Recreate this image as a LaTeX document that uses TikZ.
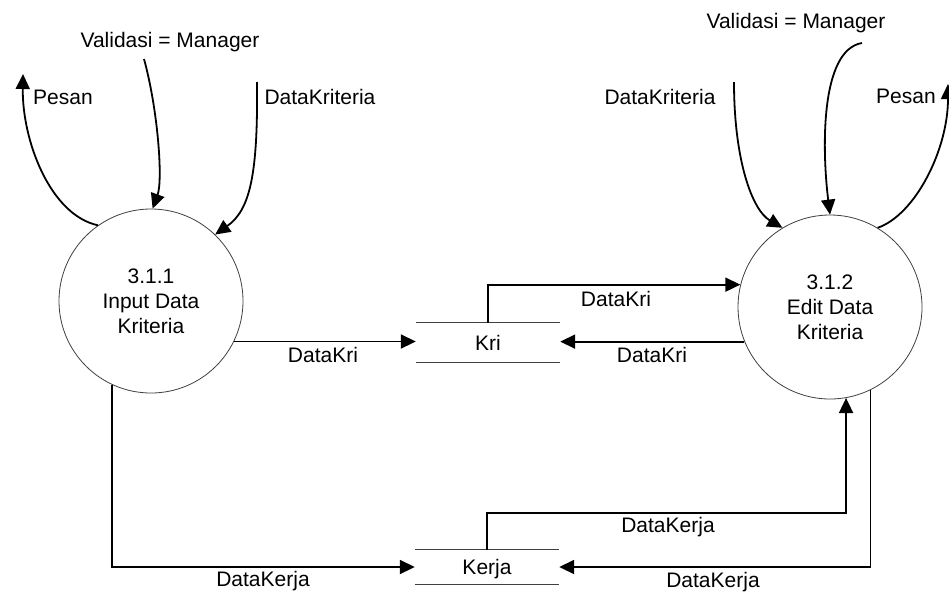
\documentclass[tikz,border=0pt]{standalone}
\usepackage{fontspec}
\setmainfont{Liberation Sans}
\usetikzlibrary{arrows.meta}
\begin{document}
\begin{tikzpicture}[x=1pt,y=-1pt,
  every node/.style={font=\fontsize{21}{25}\selectfont, inner sep=0pt},
  process/.style={circle, draw=black!75, line width=0.8pt, minimum size=184pt, align=center},
  store/.style={minimum width=144pt, text height=15pt, text depth=0pt},
  storeline/.style={draw=black!75, line width=0.9pt},
  flow/.style={line width=1.8pt, -{Triangle[length=15pt,width=14pt]}},
  lbl/.style={text height=15pt, text depth=0pt},
]
\useasboundingbox (0,0) rectangle (949,592);
\fill[white] (0,0) rectangle (949,592);

% processes
\node[process] (p1) at (151,301) {3.1.1\\Input Data\\Kriteria};
\node[process] (p2) at (830,307) {3.1.2\\Edit Data\\Kriteria};

% data stores
\node[store, minimum height=39pt] (kri) at (488,342.5) {Kri};
\node[store, minimum height=34pt] (kerja) at (487,567) {Kerja};
\draw[storeline] (kri.north west) -- (kri.north east) (kri.south west) -- (kri.south east);
\draw[storeline] (kerja.north west) -- (kerja.north east) (kerja.south west) -- (kerja.south east);

% free ends of the external flows
\coordinate (vL) at (144,59);
\coordinate (dkL) at (257,82);
\coordinate (psL) at (23,74);
\coordinate (vR) at (862,43);
\coordinate (dkR) at (734,82);
\coordinate (psR) at (948,84);
\coordinate (kb) at (0,513);

% external flows
\draw[flow] (p1.125.8) .. controls (50,215) and (22,140) .. (psL);
\draw[flow] (vL) .. controls (158,110) and (163,180) .. (p1.89);
\draw[flow] (dkL) .. controls (258,175) and (250,210) .. (p1.46.7);
\draw[flow] (vR) .. controls (820,50) and (822,150) .. (p2.90);
\draw[flow] (dkR) .. controls (734,160) and (752,210) .. (p2.121);
\draw[flow] (p2.59) .. controls (915,215) and (948,150) .. (psR);

% store flows
\draw[flow] (p1.-26.8) -- (p1.-26.8 -| kri.west);
\draw[flow] (kri.north) |- (p2.166.9);
\draw[flow] (p2.202.4) -- (p2.202.4 -| kri.east);
\draw[flow] (p1.-115.3) |- (kerja.west);
\draw[flow] (kerja.north) -- (kerja.north |- kb) -| (p2.-80);
\draw[flow] (p2.-64.9) |- (kerja.east);

% labels
\node[lbl] (tvL) at (170,40) {Validasi = Manager};
\node[lbl] (tvR) at (796,21) {Validasi = Manager};
\node[lbl] (tdkL) at (320,97) {DataKriteria};
\node[lbl] (tdkR) at (660,97) {DataKriteria};
\node[lbl] (tpsL) at (63,97) {Pesan};
\node[lbl] (tpsR) at (906,96) {Pesan};
\node[lbl] (tk1) at (323,355) {DataKri};
\node[lbl] (tk2) at (616,299) {DataKri};
\node[lbl] (tk3) at (652,355) {DataKri};
\node[lbl] (tj1) at (263,579) {DataKerja};
\node[lbl] (tj2) at (668,525) {DataKerja};
\node[lbl] (tj3) at (713,580) {DataKerja};
\end{tikzpicture}
\end{document}
